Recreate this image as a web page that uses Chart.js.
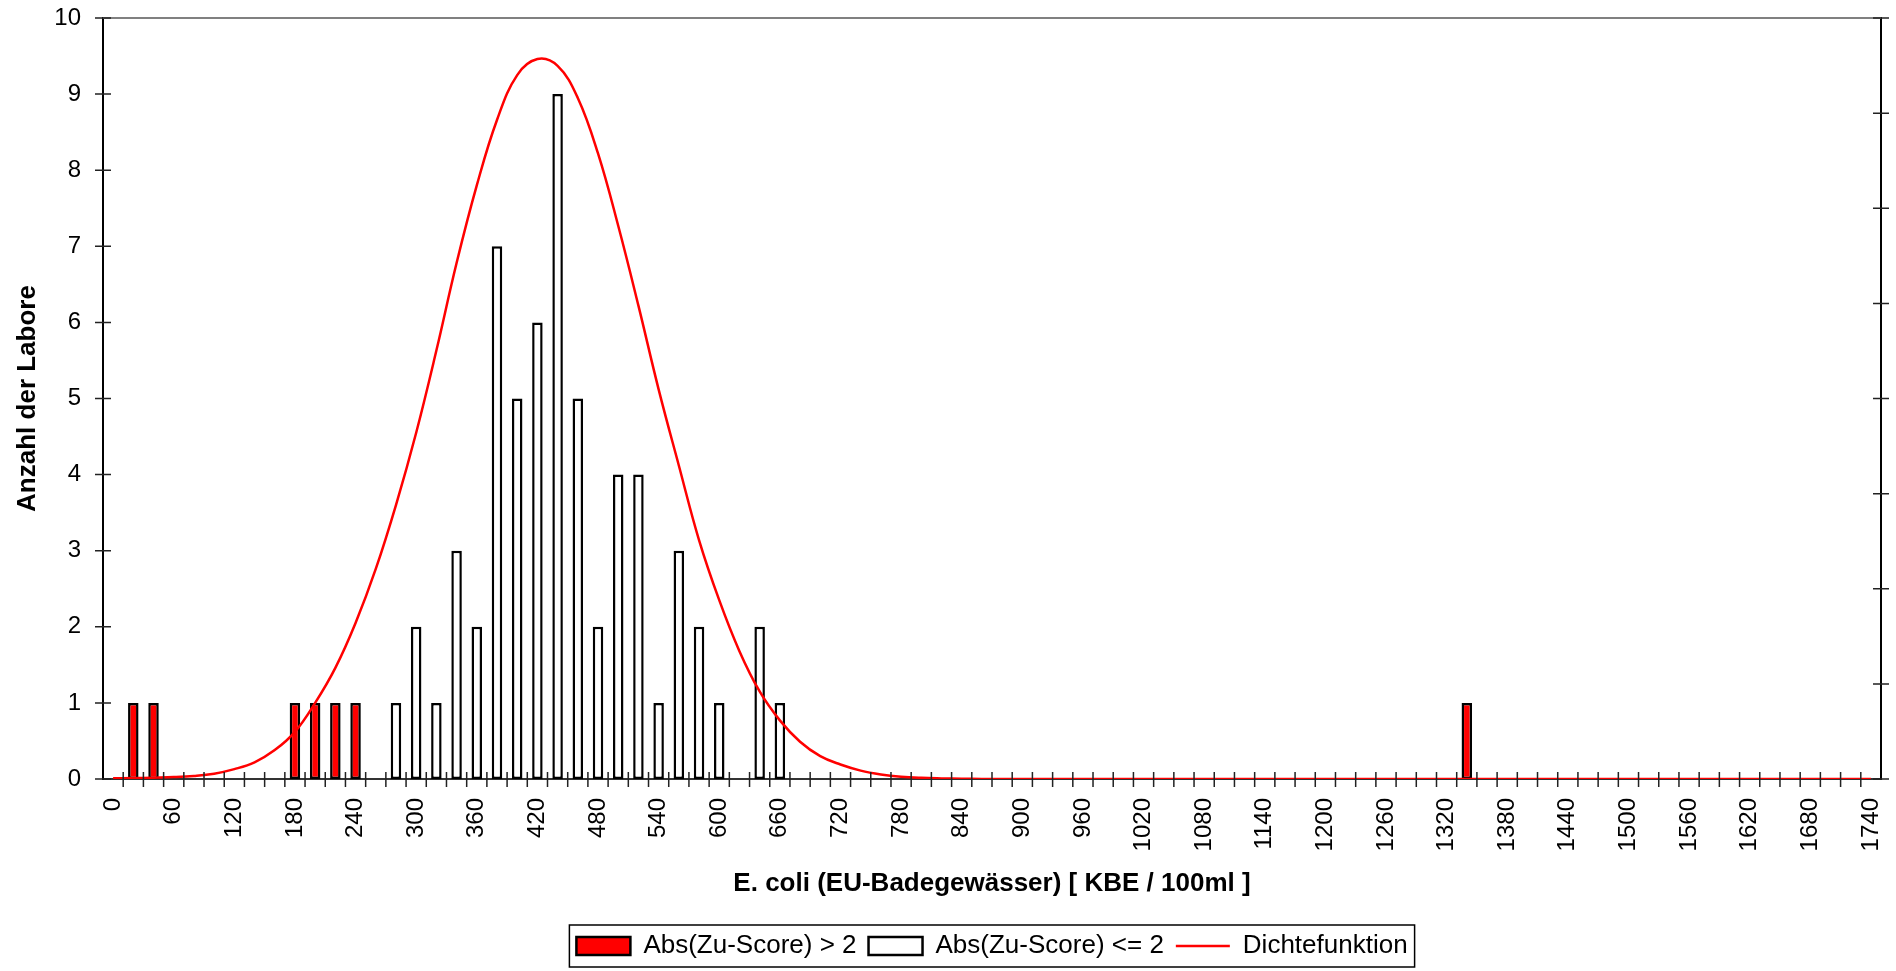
<!DOCTYPE html>
<html>
<head>
<meta charset="utf-8">
<script src="https://cdn.jsdelivr.net/npm/chart.js@4.4.0/dist/chart.umd.min.js"></script>
<style>
  html, body { margin: 0; padding: 0; background: #fff; }
  canvas { display: block; }
</style>
</head>
<body>
<canvas id="myChart" width="1896" height="971"></canvas>
<script>
// Klassen (KBE / 100ml)
const kategorien = [
    0, 20, 40, 60, 80, 100, 120, 140, 160, 180, 200, 220, 240, 260, 280, 300, 320, 340, 360, 380,
    400, 420, 440, 460, 480, 500, 520, 540, 560, 580, 600, 620, 640, 660, 680, 700, 720, 740, 760, 780,
    800, 820, 840, 860, 880, 900, 920, 940, 960, 980, 1000, 1020, 1040, 1060, 1080, 1100, 1120, 1140, 1160, 1180,
    1200, 1220, 1240, 1260, 1280, 1300, 1320, 1340, 1360, 1380, 1400, 1420, 1440, 1460, 1480, 1500, 1520, 1540, 1560, 1580,
    1600, 1620, 1640, 1660, 1680, 1700, 1720, 1740
];

// Abs(Zu-Score) > 2
const rotX = [20, 40, 180, 200, 220, 240, 1340];
const rotN = [1, 1, 1, 1, 1, 1, 1];

// Abs(Zu-Score) <= 2
const weissX = [280, 300, 320, 340, 360, 380, 400, 420, 440, 460, 480, 500, 520, 540, 560, 580, 600, 640, 660];
const weissN = [1, 2, 1, 3, 2, 7, 5, 6, 9, 5, 2, 4, 4, 1, 3, 2, 1, 2, 1];

// Dichtefunktion
const dichte = [
    0.01, 0.012, 0.018, 0.025, 0.04, 0.07, 0.13, 0.22, 0.38, 0.62,
    1.0, 1.46, 2.05, 2.76, 3.6, 4.55, 5.63, 6.78, 7.8, 8.66,
    9.25, 9.46, 9.37, 8.95, 8.22, 7.27, 6.22, 5.12, 4.12, 3.14,
    2.35, 1.68, 1.15, 0.77, 0.49, 0.3, 0.19, 0.11, 0.06, 0.03,
    0.015, 0.008, 0.004, 0, 0, 0, 0, 0, 0, 0,
    0, 0, 0, 0, 0, 0, 0, 0, 0, 0,
    0, 0, 0, 0, 0, 0, 0, 0, 0, 0,
    0, 0, 0, 0, 0, 0, 0, 0, 0, 0,
    0, 0, 0, 0, 0, 0, 0, 0
];

const yTicks = { min: 0, max: 10, step: 1 };
const y2Ticks = { min: 0, max: 8, step: 1 };

function aufKategorien(xs, ns) {
    return kategorien.map(k => {
        const i = xs.indexOf(k);
        return i >= 0 ? ns[i] : null;
    });
}

Chart.defaults.font.family = '"Liberation Sans", Arial, sans-serif';
Chart.defaults.color = '#000';

// Striche die die Achsen kreuzen + Rahmen oben
const achsenStriche = {
    id: 'achsenStriche',
    afterDatasetsDraw(chart) {
        const { ctx, chartArea: a, scales: { x, y, y2 } } = chart;
        ctx.save();
        ctx.strokeStyle = '#808080';
        ctx.lineWidth = 2;
        ctx.beginPath();
        ctx.moveTo(a.left, a.top);
        ctx.lineTo(a.right, a.top);
        ctx.stroke();

        ctx.strokeStyle = '#222';
        ctx.lineWidth = 1.5;
        ctx.beginPath();
        for (let i = 1; i < x.ticks.length; i++) {
            const px = (x.getPixelForValue(i - 1) + x.getPixelForValue(i)) / 2;
            ctx.moveTo(px, a.bottom - 7);
            ctx.lineTo(px, a.bottom + 8);
        }
        y.ticks.forEach(t => {
            const py = y.getPixelForValue(t.value);
            ctx.moveTo(a.left - 8, py);
            ctx.lineTo(a.left + 8, py);
        });
        y2.ticks.forEach(t => {
            const py = y2.getPixelForValue(t.value);
            ctx.moveTo(a.right - 8, py);
            ctx.lineTo(a.right + 8, py);
        });
        ctx.stroke();
        ctx.restore();
    }
};

// Rahmen um die Legende
const legendenRahmen = {
    id: 'legendenRahmen',
    afterDraw(chart) {
        const boxes = chart.legend.legendHitBoxes;
        if (!boxes || !boxes.length) return;
        const l = Math.min(...boxes.map(b => b.left));
        const r = Math.max(...boxes.map(b => b.left + b.width));
        const t = Math.min(...boxes.map(b => b.top));
        const b2 = Math.max(...boxes.map(b => b.top + b.height));
        const ctx = chart.ctx;
        ctx.save();
        ctx.strokeStyle = '#000';
        ctx.lineWidth = 1.5;
        ctx.strokeRect(l - 7, t - 8, r - l + 14, b2 - t + 16);
        ctx.restore();
    }
};

function ohnePadding(s) {
    s.paddingTop = 0;
    s.paddingBottom = 0;
    s.paddingLeft = 0;
    s.paddingRight = 0;
}

const ctx = document.getElementById('myChart').getContext('2d');
new Chart(ctx, {
    data: {
        labels: kategorien,
        datasets: [{
            type: 'bar',
            label: 'Abs(Zu-Score) > 2',
            data: aufKategorien(rotX, rotN),
            backgroundColor: '#ff0000',
            borderColor: '#000',
            borderWidth: 2.5,
            borderSkipped: false,
            grouped: false,
            barPercentage: 0.52,
            categoryPercentage: 1,
            pointStyle: 'rect',
            order: 1
        },
        {
            type: 'bar',
            label: 'Abs(Zu-Score) <= 2',
            data: aufKategorien(weissX, weissN),
            backgroundColor: '#fff',
            borderColor: '#000',
            borderWidth: 2.5,
            borderSkipped: false,
            grouped: false,
            barPercentage: 0.52,
            categoryPercentage: 1,
            pointStyle: 'rect',
            order: 1
        },
        {
            type: 'line',
            label: 'Dichtefunktion',
            data: dichte,
            borderColor: '#ff0000',
            backgroundColor: '#ff0000',
            borderWidth: 2.5,
            pointRadius: 0,
            tension: 0.4,
            fill: false,
            pointStyle: 'line',
            order: 0
        }]
    },
    options: {
        responsive: false,
        animation: false,
        devicePixelRatio: 1,
        layout: { padding: { top: 18, left: 0, right: 0, bottom: 2 } },
        plugins: {
            tooltip: { enabled: false },
            legend: {
                position: 'bottom',
                fullSize: false,
                labels: {
                    usePointStyle: true,
                    pointStyleWidth: 54,
                    boxHeight: 18,
                    padding: 12,
                    font: { size: 26 },
                    color: '#000',
                    sort: (a, b) => a.datasetIndex - b.datasetIndex
                }
            }
        },
        scales: {
            x: {
                type: 'category',
                offset: true,
                grid: { display: false, drawTicks: false, offset: true },
                border: { display: true, color: '#333', width: 2 },
                ticks: {
                    autoSkip: false,
                    minRotation: 90,
                    maxRotation: 90,
                    padding: 19,
                    font: { size: 24 },
                    color: '#000',
                    callback: function (v, i) {
                        return i % 3 === 0 ? this.getLabelForValue(v) : '';
                    }
                },
                title: {
                    display: true,
                    text: 'E. coli (EU-Badegewässer) [ KBE / 100ml ]',
                    font: { size: 26, weight: 'bold' },
                    color: '#000',
                    padding: { top: 0, bottom: 22 }
                },
                afterFit(s) { s.height = 142; ohnePadding(s); }
            },
            y: {
                position: 'left',
                min: yTicks.min,
                max: yTicks.max,
                ticks: { stepSize: yTicks.step, padding: 22, font: { size: 24 }, color: '#000' },
                grid: { display: false, drawTicks: false },
                border: { display: true, color: '#000', width: 2 },
                title: {
                    display: true,
                    text: 'Anzahl der Labore',
                    font: { size: 26, weight: 'bold' },
                    color: '#000',
                    padding: { top: 12, bottom: 0 }
                },
                afterFit(s) { s.width = 103; ohnePadding(s); }
            },
            y2: {
                position: 'right',
                min: y2Ticks.min,
                max: y2Ticks.max,
                ticks: { display: false, stepSize: y2Ticks.step },
                grid: { display: false, drawTicks: false },
                border: { display: true, color: '#000', width: 2 },
                afterFit(s) { s.width = 15; ohnePadding(s); }
            }
        }
    },
    plugins: [achsenStriche, legendenRahmen]
});
</script>
</body>
</html>
